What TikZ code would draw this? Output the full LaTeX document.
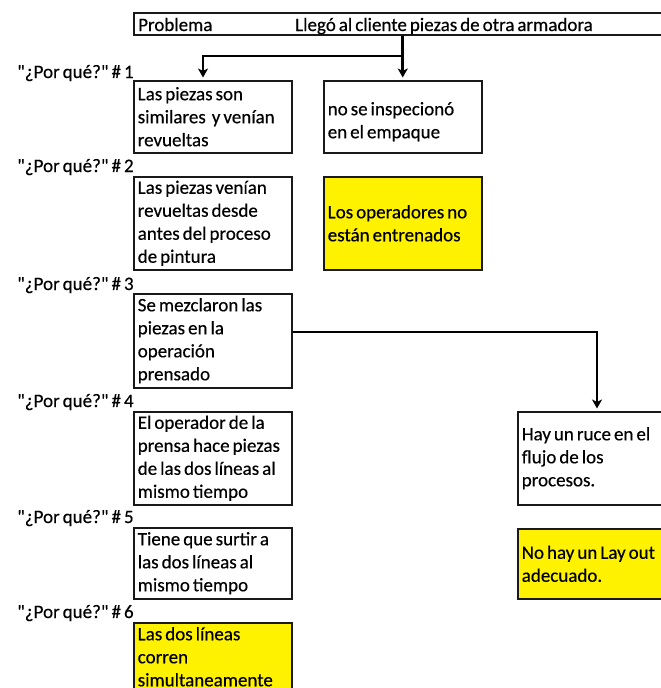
\documentclass[tikz,border=0pt]{standalone}
\usepackage{fontspec}
\setmainfont{Carlito}[Ligatures=TeXOff, WordSpace=0.7, FakeBold=0.4]
\usetikzlibrary{arrows.meta,calc}
\begin{document}
\begin{tikzpicture}[x=1pt,y=1pt,
  txt/.style={font=\fontsize{19}{23}\selectfont},
  box/.style={txt, draw=black!90, line width=1.5pt, anchor=north west, align=flush left,
    text width=150pt, inner xsep=4pt, inner ysep=0pt},
  ybox/.style={box, fill=yellow},
  why/.style={txt, anchor=base west, inner sep=0pt},
  plain/.style={txt, anchor=base west, inner sep=0pt},
  arr/.style={line width=2.8pt, -{Stealth[length=9pt,width=10pt,inset=2.5pt]}, shorten >=2.5pt}
]
\useasboundingbox (0,0) rectangle (661,-688);
\clip (0,0) rectangle (661,-688);

% top problem box
\node[draw=black!90, line width=1.5pt, anchor=north west, minimum width=600pt, minimum height=22pt, inner sep=0pt] (top) at (133,-12) {};
\node[plain] (prob) at (138,-31) {Problema};
\node[plain] (lleg) at (295,-31) {Llegó al cliente piezas de otra armadora};

% why labels
\node[why] (w1) at (17,-78) {"¿Por qué?" \# 1};
\node[why] (w2) at (17,-172) {"¿Por qué?" \# 2};
\node[why] (w3) at (17,-290) {"¿Por qué?" \# 3};
\node[why] (w4) at (17,-407) {"¿Por qué?" \# 4};
\node[why] (w5) at (17,-523) {"¿Por qué?" \# 5};
\node[why] (w6) at (17,-618) {"¿Por qué?" \# 6};

% boxes
\node[box, minimum height=72pt] (b1a) at (133,-80) {Las piezas son\\similares\ \ y venían\\revueltas};
\node[box, minimum height=72pt] (b1b) at (323,-80) {\mbox{}\\no se inspecionó\\en el empaque};
\node[box, minimum height=93pt] (b2a) at (133,-176) {Las piezas venían\\revueltas desde\\antes del proceso\\de pintura};
\node[ybox, minimum height=93pt] (b2b) at (323,-176) {Los operadores no\\están entrenados};
\node[box, minimum height=94pt] (b3) at (133,-293) {Se mezclaron las\\piezas en la\\operación\\prensado};
\node[box, minimum height=93pt] (b4a) at (133,-411) {El operador de la\\prensa hace piezas\\de las dos líneas al\\mismo tiempo};
\node[box, minimum height=93pt] (b4b) at (517,-411) {Hay un ruce en el\\flujo de los\\procesos.};
\node[box, minimum height=71pt] (b5a) at (133,-527) {Tiene que surtir a\\las dos líneas al\\mismo tiempo};
\node[ybox, minimum height=70pt] (b5b) at (517,-528) {No hay un Lay out\\adecuado.};
\node[ybox, minimum height=68pt] (b6) at (133,-622) {Las dos líneas\\corren\\simultaneamente};

% connectors
\coordinate (j1) at (b1b.north |- 0,-56);
\coordinate (a1) at (203,0);
\draw[arr] (b1b.north |- top.south) -- (b1b.north);
\draw[arr] (j1) -| (a1 |- b1a.north);
\coordinate (c3) at (0,-332);
\coordinate (a4) at (597,0);
\draw[arr] (b3.east |- c3) -| (a4 |- b4b.north);
\end{tikzpicture}
\end{document}
